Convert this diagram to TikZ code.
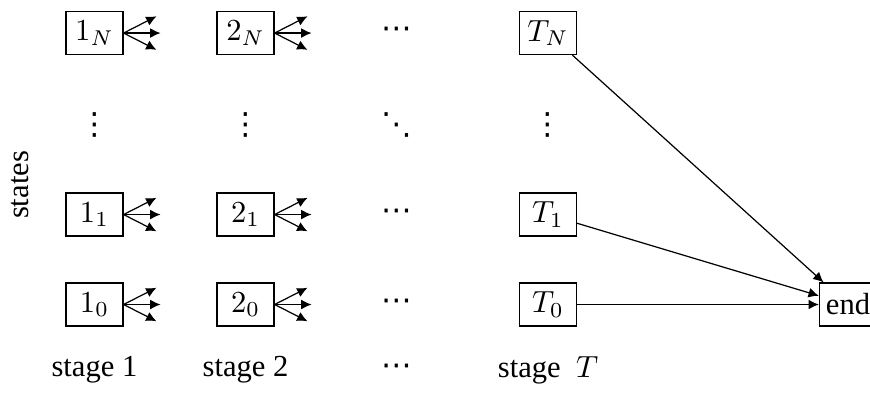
\documentclass[tikz,border=0pt]{standalone}
\usepackage{amsmath}
\usepackage{fontspec}
\setmainfont{Liberation Serif}
\newfontfamily\dotfont{DejaVu Sans}
\usepackage{tikz}
\usetikzlibrary{
    calc,
    arrows.meta
}
\tikzset{
    >={Latex[length=3.4pt,width=3.2pt]},
    statebox/.style={draw, minimum width=0.655cm, minimum height=0.494cm, inner sep=0pt},
    fan/.style={->, shorten <=0pt}
}
\newcommand{\hdts}{{\dotfont ⋯}}
\newcommand{\vdts}{{\dotfont ⋮}}
\newcommand{\ddts}{{\dotfont ⋱}}

\begin{document}
\begin{tikzpicture}
        \useasboundingbox (0,0) rectangle (10,4.506);

        % states of stage 1 and stage 2
        \foreach \s/\x in {1/1.086, 2/2.822} {
            \draw (\x,4.126) node[statebox](\s N){$\s_{N}$};
            \draw (\x,2.040) node[statebox](\s 1){$\s_{1}$};
            \draw (\x,1.006) node[statebox](\s 0){$\s_{0}$};
            \draw (\x,3.075) node(\s v){\vdts};
        }

        % the middle column
        \draw (4.563,4.126) node(dN){\hdts};
        \draw (4.563,3.075) node(dd){\ddts};
        \draw (4.563,2.040) node(d1){\hdts};
        \draw (4.563,1.006) node(d0){\hdts};

        % last stage
        \draw (6.299,4.126) node[statebox](TN){$T_{N}$};
        \draw (6.299,3.075) node(Tv){\vdts};
        \draw (6.299,2.040) node[statebox](T1){$T_{1}$};
        \draw (6.299,1.006) node[statebox](T0){$T_{0}$};

        \draw (9.747,1.006) node[statebox](end){end};

        % fans of decisions
        \foreach \n in {1N,11,10,2N,21,20} {
            \foreach \a/\k in {27/u,0/m,-27/l} {
                \coordinate (\n-\k) at ($(\n.east)+(\a:0.425)$);
                \draw[fan] (\n.east) -- (\n-\k);
            }
        }

        \draw[->] (TN) -- (end);
        \draw[->] (T1) -- (end);
        \draw[->] (T0) -- (end);

        % labels
        \draw (0.23,2.38) node[rotate=90](states){states};
        \draw (1.086,0.253) node(s1){stage 1};
        \draw (2.822,0.253) node(s2){stage 2};
        \draw (4.563,0.253) node(sd){\hdts};
        \draw (6.299,0.253) node(sT){stage~ $T$};
    \end{tikzpicture}
\end{document}
